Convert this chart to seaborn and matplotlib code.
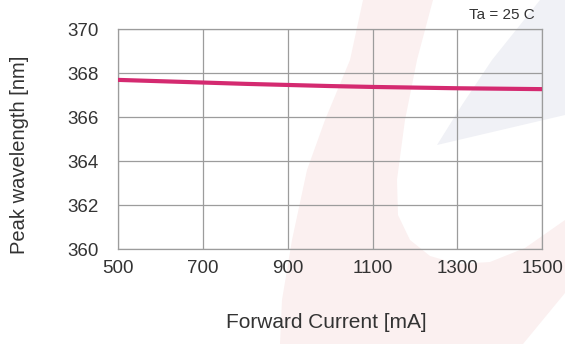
import matplotlib
matplotlib.use("Agg")
import matplotlib.pyplot as plt
from matplotlib.patches import Polygon
import seaborn as sns
import pandas as pd

# Peak wavelength vs. forward current at Ta = 25 C
current_ma = [500, 600, 700, 800, 900, 1000, 1100, 1200, 1300, 1400, 1500]
peak_nm = [367.70, 367.64, 367.58, 367.52, 367.47, 367.42, 367.38, 367.35, 367.32, 367.30, 367.28]
x_ticks = [500, 700, 900, 1100, 1300, 1500]
y_ticks = [360, 362, 364, 366, 368, 370]

df = pd.DataFrame({"current": current_ma, "wavelength": peak_nm})

sns.set_theme(style="white")
plt.rcParams["font.family"] = ["Liberation Sans", "DejaVu Sans"]

W, H = 565, 344
fig = plt.figure(figsize=(W / 100, H / 100), dpi=100)
fig.patch.set_facecolor("white")


def fpts(pts):
    return [(x / W, 1 - y / H) for x, y in pts]


# faint background logo swoosh
pink = [(363, 0), (433, 0), (417, 60), (405, 120), (397, 180), (398, 215),
        (410, 240), (430, 256), (458, 264), (490, 262), (525, 248),
        (565, 220), (565, 293), (523, 344), (280, 344), (282, 300),
        (292, 240), (307, 170), (325, 120), (350, 60)]
blue = [(540, 0), (565, 0), (565, 115), (437, 145), (462, 105), (492, 60)]
fig.patches.append(Polygon(fpts(pink), closed=True, transform=fig.transFigure,
                           facecolor="#fbf0f0", edgecolor="none", zorder=-10))
fig.patches.append(Polygon(fpts(blue), closed=True, transform=fig.transFigure,
                           facecolor="#f0f1f6", edgecolor="none", zorder=-10))

ax = fig.add_axes([118.3 / W, 1 - 249.3 / H, 424 / W, 220 / H])
ax.set_facecolor("none")

sns.lineplot(data=df, x="current", y="wavelength", ax=ax, color="#d42a70",
             linewidth=3.0, zorder=3)

ax.set_xlim(500, 1500)
ax.set_ylim(360, 370)
ax.set_xticks(x_ticks)
ax.set_yticks(y_ticks)
ax.set_xticklabels([str(v) for v in x_ticks])
ax.set_yticklabels([str(v) for v in y_ticks])
ax.grid(True, color="#9c9c9c", linewidth=0.9)
for s in ax.spines.values():
    s.set_color("#9c9c9c")
    s.set_linewidth(0.9)
ax.tick_params(axis="both", length=0, labelsize=13.5, colors="#333333")
ax.tick_params(axis="y", pad=14)
ax.tick_params(axis="x", pad=8)
ax.set_xlabel("")
ax.set_ylabel("")

fig.text(20 / W, 1 - 155 / H, "Peak wavelength [nm]", rotation=90,
         ha="center", va="center", fontsize=14.5, color="#333333")
fig.text(326 / W, 1 - 322 / H, "Forward Current [mA]",
         ha="center", va="center", fontsize=15, color="#333333")
fig.text(535 / W, 1 - 15 / H, "Ta = 25 C", ha="right", va="center",
         fontsize=11, color="#333333")

fig.savefig("out.png", dpi=100, facecolor="white")
